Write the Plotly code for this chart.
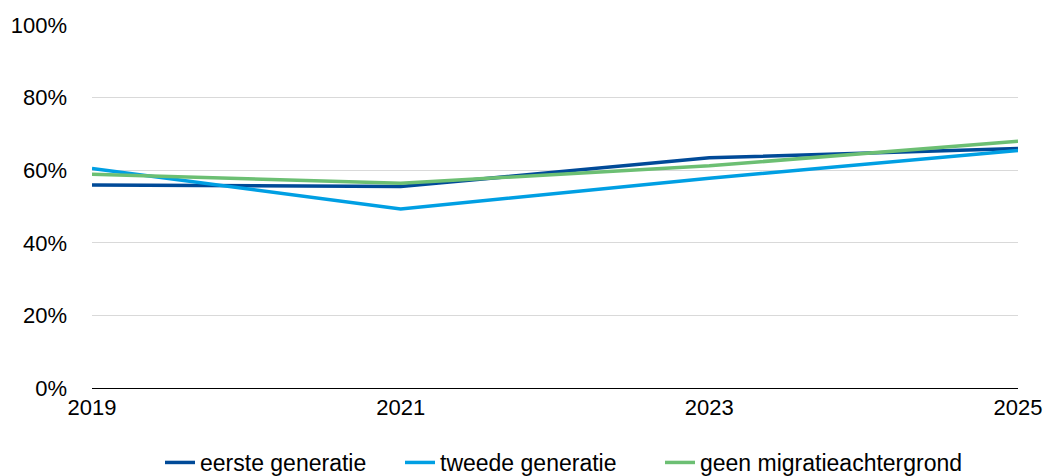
import plotly.graph_objects as go

years = [2019, 2021, 2023, 2025]
series_names = ["eerste generatie", "tweede generatie", "geen migratieachtergrond"]
eerste = [0.559, 0.555, 0.634, 0.660]
tweede = [0.605, 0.493, 0.578, 0.654]
geen = [0.589, 0.564, 0.612, 0.680]
colors = ["#004A98", "#009FE3", "#6CBF73"]
y_ticks = [0, 0.2, 0.4, 0.6, 0.8, 1.0]
y_tick_labels = ["0%", "20%", "40%", "60%", "80%", "100%"]

L, R, T, B = 92, 29, 25, 88
W, H = 1047, 476
PW = W - L - R
PH = H - T - B

legend_ids = ["legend", "legend2", "legend3"]
legend_line_starts = [165, 405, 665]

fig = go.Figure()
for name, vals, c, lid in zip(series_names, [eerste, tweede, geen], colors, legend_ids):
    fig.add_trace(go.Scatter(x=years, y=vals, name=name, mode="lines",
                             line=dict(color=c, width=3.5), legend=lid))

legend_y = -(441 - 388) / PH
layout_legends = {}
for lid, sx in zip(legend_ids, legend_line_starts):
    layout_legends[lid] = dict(orientation="h", x=(sx - 5 - L) / PW, xanchor="left",
                               y=legend_y, yanchor="top", font=dict(size=23),
                               itemwidth=30, bgcolor="rgba(0,0,0,0)")

fig.update_layout(
    width=W, height=H,
    margin=dict(l=L, r=R, t=T, b=B, autoexpand=False),
    plot_bgcolor="white", paper_bgcolor="white",
    font=dict(family="Liberation Sans, Arial, sans-serif", size=22, color="#000000"),
    showlegend=True,
    **layout_legends,
)
fig.update_xaxes(range=[2019, 2025], tickvals=years, ticktext=[str(y) for y in years],
                 showgrid=False, showline=False, zeroline=False, ticks="",
                 ticklabelstandoff=4, automargin=False)
fig.update_yaxes(range=[0, 1.0], tickvals=y_ticks, ticktext=y_tick_labels,
                 showgrid=True, gridcolor="#D9D9D9", gridwidth=1,
                 zeroline=True, zerolinecolor="#000000", zerolinewidth=1,
                 showline=False, ticks="", ticklabelstandoff=24, automargin=False)

fig.write_html("out.html", config={"displayModeBar": False},
               post_script="document.body.style.margin='0';")
